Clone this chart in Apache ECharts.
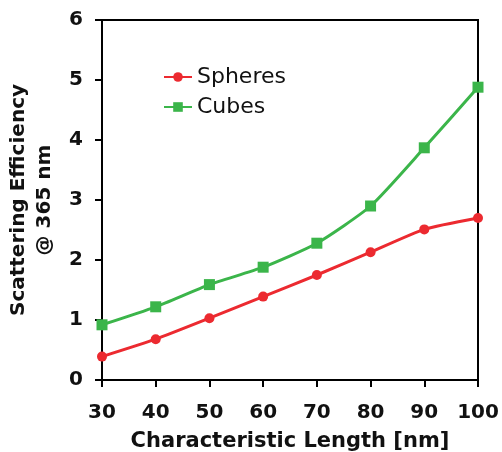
<!DOCTYPE html>
<html>
<head>
<meta charset="utf-8">
<script src="https://cdn.jsdelivr.net/npm/echarts@6/dist/echarts.min.js"></script>
<style>
html, body { margin: 0; padding: 0; background: #fff; }
#main { width: 502px; height: 452px; }
</style>
</head>
<body>
<div id="main"></div>
<script>
// characteristic length [nm]
var lengths = [30, 40, 50, 60, 70, 80, 90, 100];
var spheres = [0.39, 0.68, 1.03, 1.39, 1.75, 2.13, 2.51, 2.70];
var cubes = [0.92, 1.22, 1.59, 1.88, 2.28, 2.90, 3.87, 4.88];

function pairs(xs, ys) {
    return xs.map(function (x, i) { return [x, ys[i]]; });
}

var chart = echarts.init(document.getElementById('main'));
var option = {
    backgroundColor: '#fff',
    animation: false,
    textStyle: { fontFamily: 'DejaVu Sans' },
    grid: {
        left: 102, right: 24, top: 20, bottom: 72,
        outerBoundsMode: 'none',
        show: true, borderColor: '#000', borderWidth: 2
    },
    legend: {
        left: 158, top: 61, orient: 'vertical',
        itemWidth: 28, itemHeight: 12, itemGap: 8,
        textStyle: { fontSize: 22, color: '#111', fontFamily: 'DejaVu Sans' },
        data: ['Spheres', 'Cubes']
    },
    xAxis: {
        type: 'value', min: 30, max: 100, interval: 10,
        name: 'Characteristic Length [nm]',
        nameLocation: 'middle', nameGap: 51,
        nameTextStyle: { fontSize: 21, fontWeight: 'bold', color: '#111' },
        axisLine: { lineStyle: { color: '#000', width: 2 } },
        axisTick: { show: true, length: 7, lineStyle: { color: '#000', width: 2 } },
        axisLabel: { fontSize: 20, fontWeight: 'bold', color: '#111', margin: 23 },
        splitLine: { show: false }
    },
    yAxis: {
        type: 'value', min: 0, max: 6, interval: 1,
        name: 'Scattering Efficiency\n@ 365 nm',
        nameLocation: 'middle', nameGap: 42,
        nameTextStyle: { fontSize: 20, fontWeight: 'bold', color: '#111', lineHeight: 26 },
        axisLine: { lineStyle: { color: '#000', width: 2 } },
        axisTick: { show: true, length: 7, lineStyle: { color: '#000', width: 2 } },
        axisLabel: { fontSize: 20, fontWeight: 'bold', color: '#111', margin: 19 },
        splitLine: { show: false }
    },
    series: [
        {
            name: 'Spheres', type: 'line', smooth: 0.2,
            data: pairs(lengths, spheres),
            symbol: 'circle', symbolSize: 10,
            lineStyle: { color: '#ec2a30', width: 3 },
            itemStyle: { color: '#ec2a30' }
        },
        {
            name: 'Cubes', type: 'line', smooth: 0.2,
            data: pairs(lengths, cubes),
            symbol: 'rect', symbolSize: 11,
            lineStyle: { color: '#3bb54a', width: 3 },
            itemStyle: { color: '#3bb54a' }
        }
    ]
};
chart.setOption(option);
</script>
</body>
</html>
